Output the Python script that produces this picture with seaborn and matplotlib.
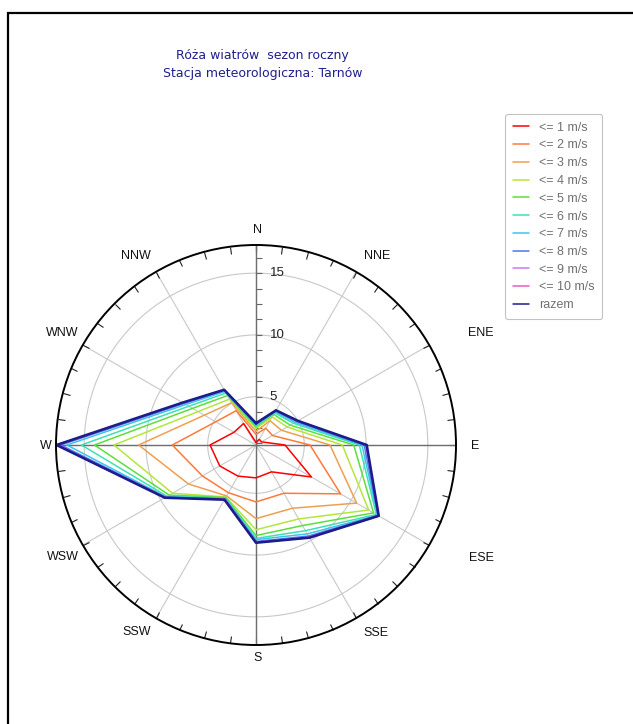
import numpy as np
import pandas as pd
import seaborn as sns
import matplotlib.pyplot as plt
from matplotlib.patches import Rectangle
from matplotlib.ticker import MultipleLocator

# 12 wind sectors, clockwise from north
directions = ["N", "NNE", "ENE", "E", "ESE", "SSE", "S", "SSW", "WSW", "W", "WNW", "NNW"]
sector_deg = [0, 30, 60, 90, 120, 150, 180, 210, 240, 270, 300, 330]

# cumulative frequencies (%) per speed class
le1 = [1.30, 1.62, 1.60, 3.44, 6.27, 3.60, 3.75, 4.00, 4.48, 4.81, 3.15, 3.10]
le2 = [1.95, 2.66, 2.63, 5.46, 9.00, 5.60, 5.70, 5.55, 6.10, 7.87, 4.85, 4.30]
le3 = [2.20, 3.36, 3.47, 7.08, 10.50, 7.00, 7.05, 5.85, 7.40, 10.59, 5.92, 5.04]
le4 = [2.44, 3.71, 4.00, 8.08, 11.62, 8.00, 7.95, 5.95, 8.90, 12.59, 6.50, 5.38]
le5 = [2.57, 3.95, 4.30, 9.00, 12.08, 8.62, 8.42, 6.00, 9.20, 14.17, 7.02, 5.71]
le6 = [2.65, 4.10, 4.60, 9.45, 12.34, 9.10, 8.65, 6.05, 9.40, 15.22, 7.37, 5.95]
le7 = [2.72, 4.20, 4.75, 9.67, 12.45, 9.40, 8.75, 6.08, 9.50, 16.40, 7.65, 6.10]
le8 = [2.80, 4.28, 4.90, 9.85, 12.50, 9.60, 8.90, 6.12, 9.55, 16.90, 7.82, 6.20]
le9 = [2.83, 4.31, 4.96, 9.98, 12.54, 9.70, 8.96, 6.16, 9.59, 17.10, 7.90, 6.23]
le10 = [2.84, 4.32, 4.98, 10.02, 12.55, 9.73, 8.98, 6.18, 9.60, 17.18, 7.93, 6.24]
total = [2.85, 4.33, 5.00, 10.05, 12.56, 9.75, 9.00, 6.20, 9.62, 17.23, 7.95, 6.25]

series_labels = ["<= 1 m/s", "<= 2 m/s", "<= 3 m/s", "<= 4 m/s", "<= 5 m/s", "<= 6 m/s",
                 "<= 7 m/s", "<= 8 m/s", "<= 9 m/s", "<= 10 m/s", "razem"]
series_values = [le1, le2, le3, le4, le5, le6, le7, le8, le9, le10, total]
colors = ["#ff0000", "#ff7a3a", "#eea050", "#b4e63c", "#5ae03c", "#3ee0b4",
          "#3cc4f0", "#4a78ee", "#cc78f0", "#f05ac0", "#1c1c8c"]

# where the sector names sit, offset from the plot centre in pixels
label_offsets = [(2, -215), (121, -189), (225, -112), (219, 1), (225, 113), (120, 188),
                 (2, 213), (-119, 187), (-193, 112), (-210, 1), (-194, -112), (-120, -189)]

# long table, each polygon closed by repeating the first sector
rows = []
for lab, vals in zip(series_labels, series_values):
    for d, v in zip(sector_deg + [360], vals + [vals[0]]):
        rows.append({"theta": np.radians(d), "value": v, "series": lab})
df = pd.DataFrame(rows)

sns.set_theme(style="white")
plt.rcParams['font.family'] = ['Liberation Sans', 'DejaVu Sans']

fig = plt.figure(figsize=(6.33, 7.24), dpi=100)
ax = fig.add_axes([56 / 633, 1 - 645 / 724, 400 / 633, 400 / 724], projection="polar")
ax.set_theta_zero_location("N")
ax.set_theta_direction(-1)

sns.lineplot(data=df, x="theta", y="value", hue="series", hue_order=series_labels,
             palette=dict(zip(series_labels, colors)), sort=False, estimator=None,
             linewidth=1.1, ax=ax)
for line in ax.lines:
    if line.get_color() == colors[-1]:
        line.set_linewidth(1.9)

ax.set_ylim(1.09, 17.28)
ax.set_xlabel("")
ax.set_ylabel("")

# grid: light circles and spokes, darker N-S / E-W cross
ax.set_xticks(np.radians(sector_deg))
ax.set_xticklabels([])
ax.xaxis.set_minor_locator(MultipleLocator(np.radians(7.5)))
ax.tick_params(axis="x", which="both", bottom=False, top=True, direction="in",
               length=5, width=0.8, color="#222222")
for name, (dx, dy) in zip(directions, label_offsets):
    ax.text(0.5 + dx / 400, 0.5 - dy / 400, name, transform=ax.transAxes,
            ha="center", va="center", fontsize=9, color="#111111")

ax.set_rlabel_position(0)
ax.set_rticks([5, 10, 15])
ax.set_yticklabels([])
ax.yaxis.set_minor_locator(MultipleLocator(1.25))
ax.tick_params(axis="y", which="both", left=True, right=False, length=4, width=0.8,
               color="#666666")
ax.grid(True, color="#c8c8c8", linewidth=0.8)
for a in [0, 90, 180, 270]:
    ax.axvline(np.radians(a), color="#6e6e6e", linewidth=1.0, zorder=1.5)
for v in [5, 10, 15]:
    ax.annotate(str(v), xy=(0, v), xytext=(10, 0), textcoords="offset points",
                ha="left", va="center", fontsize=9.5, color="#222222")
ax.spines["polar"].set_color("black")
ax.spines["polar"].set_linewidth(1.4)

leg = ax.get_legend()
handles = leg.legend_handles
labels = [t.get_text() for t in leg.get_texts()]
leg.remove()
fl = fig.legend(handles, labels, loc="upper left",
                bbox_to_anchor=(499 / 633, 1 - 108 / 724), fontsize=9,
                frameon=True, fancybox=True, edgecolor="#b4b4b4",
                handlelength=1.3, labelspacing=0.46, borderpad=0.6,
                labelcolor="#707070")
fl.get_frame().set_linewidth(0.8)

fig.text(262 / 633, 1 - 55 / 724, "Róża wiatrów  sezon roczny", ha="center",
         va="center", color="#1f1f8c", fontsize=9, family="DejaVu Sans")
fig.text(263 / 633, 1 - 73 / 724, "Stacja meteorologiczna: Tarnów", ha="center",
         va="center", color="#1f1f8c", fontsize=9, family="DejaVu Sans")

fig.add_artist(Rectangle((8 / 633, -0.05), 1.0, 1 - 13 / 724 + 0.05,
                         transform=fig.transFigure, fill=False,
                         edgecolor="black", linewidth=1.6))

fig.savefig("out.png", dpi=100)
